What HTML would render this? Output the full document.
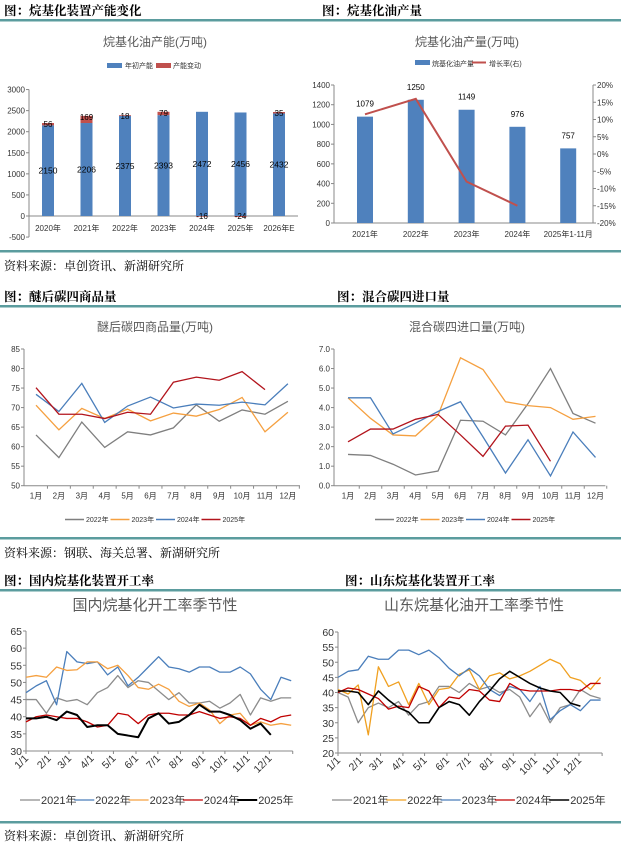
<!DOCTYPE html>
<html><head><meta charset="utf-8">
<style>
body{margin:0;background:#fff;}
svg{display:block;font-family:"Liberation Sans","Noto Sans CJK SC",sans-serif;}
.hd{font-family:"Liberation Serif","Noto Serif CJK SC",serif;font-weight:bold;font-size:12.5px;fill:#000;}
.src{font-family:"Liberation Serif","Noto Serif CJK SC",serif;font-size:12px;fill:#000;}
.tt{fill:#595959;font-size:12px;}
.tt2{fill:#595959;font-size:15px;}
.tk{fill:#333;font-size:8px;}
.tk2{fill:#333;font-size:10.5px;}
.lg{fill:#333;font-size:7px;}
.lg2{fill:#333;font-size:11px;}
</style></head>
<body>
<svg id="root" width="625" height="846" viewBox="0 0 625 846">
<!-- headers -->
<text class="hd" x="4" y="15">图：烷基化装置产能变化</text>
<text class="hd" x="322" y="15">图：烷基化油产量</text>
<rect x="0" y="19" width="621" height="2.5" fill="#5b9c9e"/>
<rect x="0" y="250" width="621" height="2.5" fill="#5b9c9e"/>
<text class="src" x="4" y="270">资料来源：卓创资讯、新湖研究所</text>

<text class="hd" x="4" y="301">图：醚后碳四商品量</text>
<text class="hd" x="337" y="301">图：混合碳四进口量</text>
<rect x="0" y="305" width="621" height="2.5" fill="#5b9c9e"/>
<rect x="0" y="537" width="621" height="2.5" fill="#5b9c9e"/>
<text class="src" x="4" y="557">资料来源：钢联、海关总署、新湖研究所</text>

<text class="hd" x="4" y="585">图：国内烷基化装置开工率</text>
<text class="hd" x="345" y="585">图：山东烷基化装置开工率</text>
<rect x="0" y="589" width="621" height="2.5" fill="#5b9c9e"/>
<rect x="0" y="821" width="621" height="2.5" fill="#5b9c9e"/>
<text class="src" x="4" y="840">资料来源：卓创资讯、新湖研究所</text>

<!-- chart titles -->
<text class="tt" x="155" y="46" text-anchor="middle">烷基化油产能(万吨)</text>
<text class="tt" x="467" y="46" text-anchor="middle">烷基化油产量(万吨)</text>
<text class="tt" x="155" y="331" text-anchor="middle">醚后碳四商品量(万吨)</text>
<text class="tt" x="467" y="331" text-anchor="middle">混合碳四进口量(万吨)</text>
<text class="tt2" x="155" y="610" text-anchor="middle">国内烷基化开工率季节性</text>
<text class="tt2" x="474" y="610" text-anchor="middle">山东烷基化油开工率季节性</text>

<!-- legends -->
<g>
<rect x="107" y="63" width="15" height="5" fill="#4f81bd"/>
<text class="lg" x="125" y="68">年初产能</text>
<rect x="156" y="63" width="15" height="5" fill="#c0504d"/>
<text class="lg" x="173" y="68">产能变动</text>
</g>
<g>
<rect x="415" y="60" width="15" height="5" fill="#4f81bd"/>
<text class="lg" x="432" y="66">烷基化油产量</text>
<rect x="472" y="61.5" width="14" height="2" fill="#c0504d"/>
<text class="lg" x="489" y="66">增长率(右)</text>
</g>
<g id="lg3"></g>
<g id="lg4"></g>
<g id="lg5"></g>
<g id="lg6"></g>

<g id="c1"></g>
<g id="c2"></g>
<g id="c3"></g>
<g id="c4"></g>
<g id="c5"></g>
<g id="c6"></g>
</svg>
<script>
// ---------- data ----------
const capYears = ["2020年","2021年","2022年","2023年","2024年","2025年","2026年E"];
const capBase = [2150,2206,2375,2393,2472,2456,2432];
const capChange = [56,169,18,79,-16,-24,35];
const capTicks = [3000,2500,2000,1500,1000,500,0,-500];

const outYears = ["2021年","2022年","2023年","2024年","2025年1-11月"];
const outValues = [1079,1250,1149,976,757];
const outGrowth = [11.5,16,-8,-15];
const outTicksL = [1400,1200,1000,800,600,400,200,0];
const outTicksR = [20,15,10,5,0,-5,-10,-15,-20];

const months = ["1月","2月","3月","4月","5月","6月","7月","8月","9月","10月","11月","12月"];
const c4Ticks = [85,80,75,70,65,60,55,50];
const c4y2022 = [63,57.2,66.3,59.8,63.8,63,64.8,70.7,66.5,69.4,68.3,71.6];
const c4y2023 = [70.6,64.3,69.8,67.2,69.6,66.6,68.6,67.8,69.5,72.6,63.8,68.8];
const c4y2024 = [73.4,69,76.2,66.2,70.4,72.7,69.9,70.9,70.6,71.4,70.7,76.1];
const c4y2025 = [75.1,68.3,68.3,67.2,68.8,68.3,76.5,77.8,77,79.2,74.6];

const impTicks = [7,6,5,4,3,2,1,0];
const imp2022 = [1.6,1.55,1.1,0.55,0.75,3.35,3.3,2.6,4.2,6.0,3.7,3.2];
const imp2023 = [4.5,3.45,2.6,2.55,3.6,6.55,5.95,4.3,4.1,4.0,3.4,3.55];
const imp2024 = [4.5,4.5,2.65,3.2,3.8,4.3,2.5,0.65,2.35,0.5,2.75,1.45];
const imp2025 = [2.25,2.9,2.9,3.4,3.65,2.6,1.5,3.05,3.1,1.25];

const monthLabels = ["1/1","2/1","3/1","4/1","5/1","6/1","7/1","8/1","9/1","10/1","11/1","12/1"];
const monthStartDay = [0,31,59,90,120,151,181,212,243,273,304,334];
const domTicks = [65,60,55,50,45,40,35,30];
const dom2021 = [45,45,41,45.5,44.5,45,43.5,47,48.5,52,48.5,50.5,50,47.5,45,47,44,44,44.5,42.5,44,46.5,40.5,45.5,44.5,45.5,45.5];
const dom2022 = [47,49,50.5,43.5,59,56,55.5,56,52.2,54.5,49,51.5,54.5,57.5,54.5,54,53,54.5,54.5,53,53,54.5,52.5,48,45,51.5,50.5];
const dom2023 = [51.5,52,51.5,54.5,53.5,53.7,56,56,54,55,52,48.5,48,49.5,48,44.5,43,44,42,38,40.5,41,37.5,38.5,37.5,38,37.5];
const dom2024 = [38.5,40,40.5,40,39.5,39.5,38.5,37,37.5,41,40.5,38,40.5,41,41,40.5,40.5,41.5,40.5,39.5,40,39.5,37.5,39.5,38.5,40,40.5];
const dom2025 = [39.5,39.5,40,39,41.5,40.5,37,37.5,37.5,35,34.5,34,39.5,41,38,38.5,40.5,43.5,41.5,41.5,40.5,39,36.5,38,34.7];

const sdTicks = [60,55,50,45,40,35,30,25,20];
const sd2021 = [40,38.5,30,35,36.5,35,37,32.5,36,37,42,42,40,43,41,42,40,41,38.5,32,36.5,30,35,36,41,39,38];
const sd2022 = [41,39.5,42.5,26,48.5,42,43.5,36,43,36,41,41.5,46,47.5,41,45.5,46.5,44.5,45.5,47,49,51,49.5,45,44,41,45];
const sd2023 = [45,47,47.5,52,51,51,54,54,52.5,54,51.5,48,45.5,48,45.5,41,39,42,41,37,42,31,34,36,34,37.5,37.5];
const sd2024 = [40,41.5,41,39.5,38,34.5,35.5,35,42,40.5,35,38.5,38,41,40.5,37.5,37,43,41,40.5,40.5,40.5,41,41,40.5,43,43];
const sd2025 = [40.5,40.5,40,36,40.5,37.5,35,33.5,30,30,35,37,36,32.5,37,40.5,44.5,47,45,43,41.5,40.5,40,36.5,35.5];

// ---------- helpers ----------
const NS = "http://www.w3.org/2000/svg";
function mk(parent, tag, attrs, txt){
  const e = document.createElementNS(NS, tag);
  for (const k in attrs) e.setAttribute(k, attrs[k]);
  if (txt !== undefined) e.textContent = txt;
  parent.appendChild(e);
  return e;
}
const AX = "#888";

// ---------- chart 1 ----------
(function(){
  const g = document.getElementById("c1");
  const y = v => 216 - v*0.04215;
  const cx = i => 48 + i*38.5;
  let e = mk(g,"line",{x1:29,y1:y(3000),x2:29,y2:y(-500),stroke:AX,"stroke-width":1});
  
  
  capTicks.forEach(t=>{
    mk(g,"line",{x1:26,y1:y(t),x2:29,y2:y(t),stroke:AX});
    const tx = mk(g,"text",{x:25,y:y(t)+3,"text-anchor":"end",class:"tk"},String(t));
    
    
  });
  e = mk(g,"line",{x1:29,y1:y(0),x2:298,y2:y(0),stroke:AX});
  
  
  capYears.forEach((c,i)=>{
    const x = cx(i), b = capBase[i], d = capChange[i];
    const r = mk(g,"rect",{x:x-6,y:y(b),width:12,height:y(0)-y(b),fill:"#4f81bd"});
    
    
    let r2;
    if (d>=0) r2 = mk(g,"rect",{x:x-6,y:y(b+d),width:12,height:y(b)-y(b+d),fill:"#c0504d"});
    else r2 = mk(g,"rect",{x:x-6,y:y(0),width:12,height:y(d)-y(0),fill:"#c0504d"});
    
    
    const l1 = mk(g,"text",{x:x,y:y(b*0.5)+3,"text-anchor":"middle",class:"tk",style:"font-size:8.5px;fill:#000"},String(b));
    
    
    const ly = d>=0 ? y(b+d)+4 : y(0)+3;
    const l2 = mk(g,"text",{x:x,y:ly,"text-anchor":"middle",class:"tk",style:"font-size:8px;fill:#000"},String(d));
    
    
    const xl = mk(g,"text",{x:x,y:231,"text-anchor":"middle",class:"tk"},c);
    
    
  });
})();

// ---------- chart 2 ----------
(function(){
  const g = document.getElementById("c2");
  const y = v => 223 - v*(138/1400);
  const yr = p => 223 - (p+20)*(138/40);
  const cx = i => 365 + i*50.8;
  let e = mk(g,"line",{x1:334,y1:85,x2:334,y2:223,stroke:AX});
  
  
  e = mk(g,"line",{x1:593,y1:85,x2:593,y2:223,stroke:AX});
  
  
  e = mk(g,"line",{x1:334,y1:223,x2:593,y2:223,stroke:AX});
  
  
  outTicksL.forEach(t=>{
    mk(g,"line",{x1:331,y1:y(t),x2:334,y2:y(t),stroke:AX});
    const tx = mk(g,"text",{x:330,y:y(t)+3,"text-anchor":"end",class:"tk"},String(t));
    
    
  });
  outTicksR.forEach(t=>{
    mk(g,"line",{x1:593,y1:yr(t),x2:596,y2:yr(t),stroke:AX});
    const tx = mk(g,"text",{x:597,y:yr(t)+3,class:"tk"},t+"%");
    
    
  });
  outYears.forEach((c,i)=>{
    const x = cx(i), v = outValues[i];
    const r = mk(g,"rect",{x:x-8,y:y(v),width:16,height:223-y(v),fill:"#4f81bd"});
    
    
    const l = mk(g,"text",{x:x,y:y(v)-10,"text-anchor":"middle",class:"tk",style:"fill:#000"},String(v));
    
    
    const xl = mk(g,"text",{x:x,y:237,"text-anchor":"middle",class:"tk"},c);
    
    
  });
  const pts = outGrowth.map((p,i)=>cx(i)+","+yr(p)).join(" ");
  const pl = mk(g,"polyline",{points:pts,fill:"none",stroke:"#c0504d","stroke-width":2});
  
  
})();

// ---------- monthly line charts ----------
function monthlyChart(gid, lgid, opt){
  const g = document.getElementById(gid);
  const y = v => opt.y0 - (v-opt.vmin)*(opt.h/(opt.vmax-opt.vmin));
  const cx = i => opt.x0 + i*opt.dx;
  let e = mk(g,"line",{x1:opt.ax,y1:y(opt.vmax),x2:opt.ax,y2:opt.y0,stroke:AX});
  
  
  e = mk(g,"line",{x1:opt.ax,y1:opt.y0,x2:opt.ax+12*opt.dx+(opt.x0-opt.ax)*0.1,y2:opt.y0,stroke:AX});
  
  
  opt.ticks.forEach(t=>{
    mk(g,"line",{x1:opt.ax-3,y1:y(t),x2:opt.ax,y2:y(t),stroke:AX});
    const tx = mk(g,"text",{x:opt.ax-4,y:y(t)+3,"text-anchor":"end",class:"tk"},opt.fmt(t));
    
    
  });
  months.forEach((m,i)=>{
    mk(g,"line",{x1:cx(i)+opt.dx/2,y1:opt.y0,x2:cx(i)+opt.dx/2,y2:opt.y0+3,stroke:AX});
    const xl = mk(g,"text",{x:cx(i),y:opt.y0+13,"text-anchor":"middle",class:"tk"},m);
    
    
  });
  opt.series.forEach(s=>{
    const pts = s.data.map((v,i)=>cx(i)+","+y(v)).join(" ");
    const pl = mk(g,"polyline",{points:pts,fill:"none",stroke:s.color,"stroke-width":1.3});
    
    
  });
  const lg = document.getElementById(lgid);
  opt.series.forEach((s,i)=>{
    const lx = opt.lgx + i*45.5;
    mk(lg,"line",{x1:lx,y1:opt.lgy-2.5,x2:lx+19,y2:opt.lgy-2.5,stroke:s.color,"stroke-width":1.5});
    const t = mk(lg,"text",{x:lx+21,y:opt.lgy,class:"lg"},s.name);
    
    
  });
}
monthlyChart("c3","lg3",{ax:24,x0:36,dx:22.9,y0:485.7,h:136.7,vmin:50,vmax:85,ticks:c4Ticks,fmt:t=>String(t),lgx:65,lgy:522,
  series:[{name:"2022年",color:"#7f7f7f",data:c4y2022},{name:"2023年",color:"#f5a040",data:c4y2023},{name:"2024年",color:"#4a7ebb",data:c4y2024},{name:"2025年",color:"#b2141c",data:c4y2025}]});
monthlyChart("c4","lg4",{ax:334,x0:348,dx:22.5,y0:485.7,h:136.7,vmin:0,vmax:7,ticks:impTicks,fmt:t=>t.toFixed(1),lgx:375,lgy:522,
  series:[{name:"2022年",color:"#7f7f7f",data:imp2022},{name:"2023年",color:"#f5a040",data:imp2023},{name:"2024年",color:"#4a7ebb",data:imp2024},{name:"2025年",color:"#b2141c",data:imp2025}]});

// ---------- seasonal weekly charts ----------
function seasonChart(gid, lgid, opt){
  const g = document.getElementById(gid);
  const y = v => opt.y0 - (v-opt.vmin)*(opt.h/(opt.vmax-opt.vmin));
  const x = w => opt.ax + w*opt.k;
  let e = mk(g,"line",{x1:opt.ax,y1:y(opt.vmax),x2:opt.ax,y2:opt.y0,stroke:AX});
  
  
  e = mk(g,"line",{x1:opt.ax,y1:opt.y0,x2:x(52.3),y2:opt.y0,stroke:AX});
  
  
  opt.ticks.forEach(t=>{
    mk(g,"line",{x1:opt.ax-3,y1:y(t),x2:opt.ax,y2:y(t),stroke:AX});
    const tx = mk(g,"text",{x:opt.ax-4,y:y(t)+4,"text-anchor":"end",class:"tk2"},String(t));
    
    
  });
  monthLabels.forEach((m,i)=>{
    const xx = x(monthStartDay[i]/7);
    mk(g,"line",{x1:xx,y1:opt.y0,x2:xx,y2:opt.y0+3,stroke:AX});
    const tl = mk(g,"text",{x:xx+3,y:opt.y0+8,"text-anchor":"end",class:"tk2",transform:"rotate(-45 "+(xx+3)+" "+(opt.y0+8)+")"},m);
    
    
  });
  mk(g,"line",{x1:x(52.3),y1:opt.y0,x2:x(52.3),y2:opt.y0+3,stroke:AX});
  opt.series.forEach(s=>{
    const pts = s.data.map((v,i)=>x(i*2)+","+y(v)).join(" ");
    const pl = mk(g,"polyline",{points:pts,fill:"none",stroke:s.color,"stroke-width":s.w,"stroke-linejoin":"round"});
    
    
  });
  const lg = document.getElementById(lgid);
  opt.series.forEach((s,i)=>{
    const lx = opt.lgx + i*54.3;
    mk(lg,"line",{x1:lx,y1:opt.lgy-4,x2:lx+20,y2:opt.lgy-4,stroke:s.color,"stroke-width":s.w});
    const t = mk(lg,"text",{x:lx+21,y:opt.lgy,class:"lg2"},s.name);
    
    
  });
}
seasonChart("c5","lg5",{ax:26,k:5.1,y0:751,h:120,vmin:30,vmax:65,ticks:domTicks,lgx:20,lgy:804,
  series:[{name:"2021年",color:"#8c8c8c",w:1.3,data:dom2021},{name:"2022年",color:"#4a7ebb",w:1.3,data:dom2022},{name:"2023年",color:"#f5a040",w:1.3,data:dom2023},{name:"2024年",color:"#c00000",w:1.3,data:dom2024},{name:"2025年",color:"#000000",w:2,data:dom2025}]});
seasonChart("c6","lg6",{ax:338,k:5.05,y0:753,h:121,vmin:20,vmax:60,ticks:sdTicks,lgx:332,lgy:804,
  series:[{name:"2021年",color:"#8c8c8c",w:1.3,data:sd2021},{name:"2022年",color:"#f0a020",w:1.3,data:sd2022},{name:"2023年",color:"#4a7ebb",w:1.3,data:sd2023},{name:"2024年",color:"#c00000",w:1.3,data:sd2024},{name:"2025年",color:"#000000",w:1.6,data:sd2025}]});
</script>
</body></html>
